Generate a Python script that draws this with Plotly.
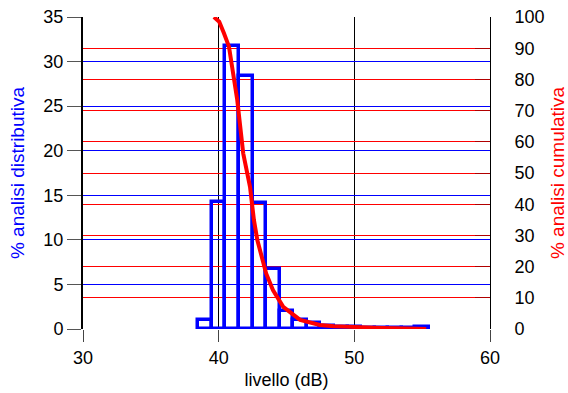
import plotly.graph_objects as go

# Distribution histogram (1 dB bins, centres)
bin_centres = [39, 40, 41, 42, 43, 44, 45, 46, 47, 48, 49, 50, 51, 52, 53, 54, 55]
dist_pct = [1.0, 14.2, 31.7, 28.4, 14.1, 6.7, 2.05, 1.0, 0.64, 0.3, 0.2, 0.2, 0.15, 0.1, 0.1, 0.1, 0.2]

# Cumulative (exceedance) curve
cum_level = [39.65, 40.04, 40.39, 40.59, 40.76, 41.37, 41.52, 41.81, 42.31, 42.6, 42.85,
             43.5, 44.0, 44.76, 46.0, 47.46, 48.5, 50.0, 52.0, 54.0, 55.3]
cum_pct = [100, 98.5, 94.8, 92.6, 90.5, 73.4, 67.0, 56.3, 45.6, 34.9, 28.5,
           17.8, 12.5, 7.1, 2.9, 1.3, 0.9, 0.6, 0.35, 0.15, 0.0]

x_ticks = [30, 40, 50, 60]

FONT = "Liberation Sans, Arial, sans-serif"

fig = go.Figure()
fig.add_trace(go.Bar(
    x=bin_centres, y=dist_pct, width=1,
    marker=dict(color="rgba(0,0,0,0)", line=dict(color="#0000ff", width=3.5)),
    yaxis="y", showlegend=False,
))
fig.add_trace(go.Scatter(
    x=cum_level, y=cum_pct, mode="lines",
    line=dict(color="#ff0000", width=4),
    yaxis="y2", showlegend=False,
))

fig.update_layout(
    width=568, height=393,
    margin=dict(l=83, r=78, t=17, b=64, autoexpand=False),
    paper_bgcolor="white", plot_bgcolor="white",
    font=dict(family=FONT, size=18, color="black"),
    bargap=0,
    xaxis=dict(
        range=[30, 60], tickvals=x_ticks, showgrid=True, gridcolor="black", gridwidth=1,
        zeroline=False, showline=False, ticks="outside", ticklen=12, tickcolor="#444",
        title=dict(text="livello (dB)", standoff=6, font=dict(size=18)),
        tickfont=dict(size=18), automargin=False,
    ),
    yaxis=dict(
        range=[0, 35], dtick=5, showgrid=True, gridcolor="#0000ff", gridwidth=1,
        zeroline=False, showline=True, linecolor="black", linewidth=2,
        ticks="outside", ticklen=14, tickcolor="#555",
        title=dict(text="% analisi distributiva", font=dict(color="#0000ff", size=19), standoff=14),
        tickfont=dict(size=18), automargin=False,
    ),
    yaxis2=dict(
        range=[0, 100], dtick=10, overlaying="y", side="right",
        showgrid=True, gridcolor="#ff0000", gridwidth=1,
        zeroline=False, showline=True, linecolor="black", linewidth=1,
        ticks="inside", ticklen=15, tickcolor="#b00000",
        ticklabelstandoff=20,
        title=dict(text="% analisi cumulativa", font=dict(color="#ff0000", size=19), standoff=10),
        tickfont=dict(size=18), automargin=False,
    ),
)

fig.write_html(
    "out.html",
    config={"displayModeBar": False},
    post_script="document.body.style.margin='0';document.body.style.overflow='hidden';",
)
